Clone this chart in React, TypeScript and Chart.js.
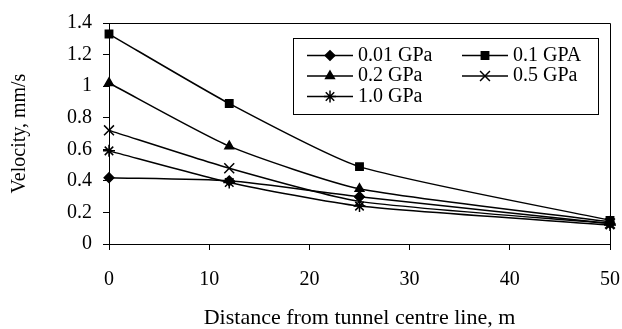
import React, { useEffect, useRef } from 'react';
import { Chart, registerables } from 'chart.js';
import { drawPoint } from 'chart.js/helpers';

Chart.register(...registerables);

const distances = [0, 12, 25, 50];
const seriesLabels = ['0.01 GPa', '0.1 GPA', '0.2 GPa', '0.5 GPa', '1.0 GPa'];
const vel001 = [0.42, 0.4, 0.3, 0.13];
const vel01 = [1.33, 0.89, 0.49, 0.15];
const vel02 = [1.02, 0.62, 0.35, 0.14];
const vel05 = [0.72, 0.48, 0.27, 0.13];
const vel10 = [0.59, 0.39, 0.24, 0.12];
const seriesValues = [vel001, vel01, vel02, vel05, vel10];
const pointStyles = ['rectRot', 'rect', 'triangle', 'crossRot', 'star'];
const pointSizes = [4.8, 5.2, 5, 7, 6];

const FONT = "'Liberation Serif', 'Times New Roman', serif";

const framePlugin = {
  id: 'frame',
  afterDraw(chart: any) {
    const { ctx, chartArea } = chart;
    ctx.save();
    ctx.strokeStyle = '#000';
    ctx.lineWidth = 1;
    ctx.beginPath();
    ctx.moveTo(chartArea.left, chartArea.top + 0.5);
    ctx.lineTo(chartArea.right + 0.5, chartArea.top + 0.5);
    ctx.lineTo(chartArea.right + 0.5, chartArea.bottom);
    ctx.stroke();
    ctx.restore();
  },
};

const legendPlugin = {
  id: 'boxLegend',
  afterDraw(chart: any) {
    const { ctx } = chart;
    const bx = 293.5, by = 38.5, bw = 305, bh = 76;
    ctx.save();
    ctx.fillStyle = '#fff';
    ctx.fillRect(bx, by, bw, bh);
    ctx.strokeStyle = '#000';
    ctx.lineWidth = 1;
    ctx.strokeRect(bx, by, bw, bh);
    const colX = [307, 462];
    const rowY = [55.5, 76, 96.5];
    chart.data.datasets.forEach((ds: any, i: number) => {
      const x0 = colX[i % 2];
      const y = rowY[Math.floor(i / 2)];
      ctx.strokeStyle = '#000';
      ctx.lineWidth = 1.5;
      ctx.beginPath();
      ctx.moveTo(x0, y);
      ctx.lineTo(x0 + 46, y);
      ctx.stroke();
      ctx.fillStyle = '#000';
      ctx.lineWidth = 1.5;
      drawPoint(ctx, { pointStyle: ds.pointStyle, radius: ds.pointRadius, rotation: 0, borderWidth: 1.5 } as any, x0 + 23, y);
      ctx.fillStyle = '#000';
      ctx.font = `20px ${FONT}`;
      ctx.textBaseline = 'middle';
      ctx.textAlign = 'left';
      ctx.fillText(ds.label, x0 + 51, y);
    });
    ctx.restore();
  },
};

export default function App() {
  const ref = useRef<HTMLCanvasElement>(null);
  useEffect(() => {
    if (!ref.current) return;
    const chart = new Chart(ref.current, {
      type: 'line',
      data: {
        datasets: seriesLabels.map((label, i) => ({
          label,
          data: distances.map((d, j) => ({ x: d, y: seriesValues[i][j] })),
          borderColor: '#000',
          backgroundColor: '#000',
          borderWidth: 1.5,
          pointStyle: pointStyles[i] as any,
          pointRadius: pointSizes[i],
          pointBorderWidth: 1.5,
          pointBackgroundColor: '#000',
          pointBorderColor: '#000',
          tension: 0.2,
          clip: false as any,
        })),
      },
      options: {
        responsive: false,
        animation: false,
        events: [],
        layout: { padding: { left: 0, right: 12, top: 22, bottom: 0 } },
        plugins: { legend: { display: false }, tooltip: { enabled: false } },
        scales: {
          x: {
            type: 'linear',
            min: 0,
            max: 50,
            afterFit: (s: any) => { s.height = 85; s.paddingRight = 0; s.paddingLeft = 0; },
            ticks: { stepSize: 10, color: '#000', padding: 18, font: { family: FONT, size: 20 }, maxRotation: 0 },
            grid: { display: true, drawOnChartArea: false, drawTicks: true, tickLength: 6, color: '#000', lineWidth: 1 },
            border: { display: true, color: '#000', width: 1 },
            title: { display: true, text: 'Distance from tunnel centre line, m', color: '#000', font: { family: FONT, size: 22, lineHeight: 1 }, padding: { top: 0, bottom: 0 } },
          },
          y: {
            type: 'linear',
            min: 0,
            max: 1.4,
            afterFit: (s: any) => { s.width = 109; },
            ticks: {
              stepSize: 0.2,
              color: '#000',
              padding: 11,
              font: { family: FONT, size: 20 },
              callback: (v: any) => Number(v).toFixed(1).replace(/\.0$/, ''),
            },
            grid: { display: true, drawOnChartArea: false, drawTicks: true, tickLength: 6, color: '#000', lineWidth: 1 },
            border: { display: true, color: '#000', width: 1 },
            title: { display: true, text: 'Velocity, mm/s', color: '#000', font: { family: FONT, size: 20, lineHeight: 1.2 }, padding: { top: 8, bottom: 0 } },
          },
        },
      },
      plugins: [framePlugin, legendPlugin],
    });
    return () => chart.destroy();
  }, []);
  return (
    <div style={{ position: 'fixed', left: 0, top: 0, width: 622, height: 329, background: '#fff' }}>
      <canvas ref={ref} width={622} height={329} />
    </div>
  );
}
